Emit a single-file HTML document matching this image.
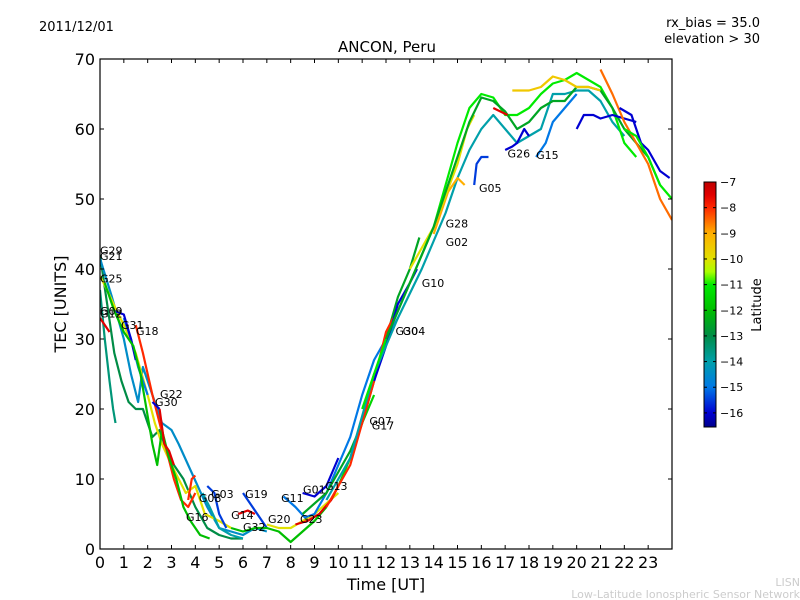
<!DOCTYPE html>
<html><head><meta charset="utf-8"><style>
body{margin:0;background:#fff;}
svg{display:block;font-family:"DejaVu Sans","Liberation Sans",sans-serif;}
</style></head><body>
<svg id="chart" width="800" height="600" viewBox="0 0 800 600">
<defs><linearGradient id="jet" x1="0" y1="1" x2="0" y2="0" id2="g"></linearGradient></defs>
<rect width="800" height="600" fill="#fff"/>
<text x="39" y="31" font-size="13">2011/12/01</text>
<text x="760" y="27" font-size="13" text-anchor="end">rx_bias = 35.0</text>
<text x="760" y="43" font-size="13" text-anchor="end">elevation &gt; 30</text>
<text x="387" y="52" font-size="15" text-anchor="middle">ANCON, Peru</text>
<text transform="translate(66,304) rotate(-90)" font-size="16" text-anchor="middle">TEC [UNITS]</text>
<text x="386" y="590" font-size="16" text-anchor="middle">Time [UT]</text>
<text x="800" y="586" font-size="11" fill="#ccc" text-anchor="end">LISN</text>
<text x="800" y="598" font-size="11" fill="#ccc" text-anchor="end">Low-Latitude Ionospheric Sensor Network</text>
<g id="plot"></g>
<g id="cbar">
<rect x="704" y="182" width="12" height="245" fill="url(#jet)" stroke="#000" stroke-width="1"/>
</g>
<text transform="translate(761,305) rotate(-90)" font-size="13" text-anchor="middle">Latitude</text>
</svg>
<script>
const xTicks=[0,1,2,3,4,5,6,7,8,9,10,11,12,13,14,15,16,17,18,19,20,21,22,23];
const yTicks=[0,10,20,30,40,50,60,70];
const cbTicks=[-7,-8,-9,-10,-11,-12,-13,-14,-15,-16];
const trackLat=[-13,-14.5,-10,-13.5,-7.5,-15,-16,-8,-12,-7.5,-16,-8,-15.5,-14,-15.5,-7.5,-12,-10,-15,-16,-7.5,-11.5,-12.5,-8,-16,-14,-9,-15.5,-10,-11,-12.5,-16,-15,-9.5,-7.5,-16,-8.5,-16,-11];
const trackT=[
[0,0.3,0.6,0.9,1.2,1.5,1.8,2.0,2.2,2.5,2.8,3.1,3.5,4.0,4.5,5.0,5.5,6.0],
[0,0.5,1.0,1.3,1.6,1.8,2.2,2.6,3.0,3.3,3.7,4.1,4.5,5.0,5.5,6.0,6.5,7.0],
[0,0.3,0.7,1.0,1.5,2.0,2.3,2.6,3.0,3.3,3.6,4.0,4.4,5.0,5.5],
[0,0.2,0.4,0.55,0.65],
[0,0.2,0.4],
[1.0,1.3,1.6,1.8,2.0],
[0.6,1.0,1.3,1.5],
[1.5,1.8,2.2,2.5,2.8,3.1,3.4,3.7,4.0],
[0.2,0.6,1.0,1.4,1.7,2.0,2.2,2.4,2.6,2.9,3.2,3.5,3.8,4.2,4.6],
[2.5,2.7,2.9,3.1],
[2.2,2.5],
[3.7,3.85,4.0],
[4.5,4.8,5.0,5.3],
[4.3,4.6,5.0,5.5,6.0],
[6.0,6.4,6.8,7.0],
[5.8,6.2,6.5],
[5.5,6.0,6.5,7.0,7.5,8.0,8.5,9.0,9.5],
[7.0,7.5,8.0,8.5,9.0,9.5,10.0],
[7.7,8.2,8.6,9.0,9.5,10.0,10.5,11.0,11.5,12.0,12.5],
[8.5,9.0,9.5,10.0],
[8.2,8.7,9.2,9.7,10.0],
[10.0,10.5,11.0,11.5],
[8.5,9.5,10.5,11.0,11.5,12.0,12.5,13.0,13.4],
[9.5,10.5,11.5,12.0,12.3],
[11.5,12.0,12.5,13.0,13.3],
[9.5,10.5,11.5,12.5,13.5,14.0,14.5,15.0,15.5,16.0,16.5,17.0,17.5,18.0,18.5,19.0,19.5,20.0,20.5,21.0,21.5,22.0],
[14.0,14.3,14.6,15.0,15.3],
[15.7,15.8,16.0,16.3],
[13.0,14.0,15.0,15.4,15.7],
[11.0,12.0,13.0,14.0,14.5,15.0,15.5,16.0,16.5,17.0,17.5,18.0,18.5,19.0,19.5,20.0,20.5,21.0,21.5,22.0,22.5],
[12.0,13.0,14.0,15.0,15.5,16.0,16.5,17.0,17.5,18.0,18.5,19.0,19.5,20.0,20.5,21.0,21.5,22.0,22.5,23.0,23.5],
[17.0,17.3,17.5,17.8,18.0],
[18.3,18.7,19.0,19.5,20.0],
[17.3,18.0,18.5,19.0,19.5,20.0,20.5,21.0],
[16.5,16.8,17.1],
[20.0,20.3,20.7,21.0,21.5,22.0,22.5],
[21.0,21.5,22.0,22.5,23.0,23.5,24.0],
[21.8,22.3,22.7,23.0,23.5,23.9],
[22.0,22.5,23.0,23.5,24.0]
];
const trackTec=[
[42,35,28,24,21,20,20,18,16,17,14,12,10,6,3,2,1.5,1.5],
[41.5,36,30,25,21,26,22,18,17,15,12,9,6,3,2.5,2,3,2.5],
[39,37,34,32,28,22,18,15,12,10,8,9,5,4,3],
[37,30,24,20,18],
[33,32,31],
[33,30,26,24,22],
[34,33.5,30,27],
[32,28,22,18,14,10,7,6,8],
[38,34,31,29,25,19,15,12,17,13,10,6,4,2,1.5],
[20,15,14,12],
[21,20],
[7,10,10.5],
[9,8,5,3],
[8,6,3,2,1.5],
[8,6,4,3],
[5,5.5,5],
[3,2.5,3,3,2.5,1,2.5,4,6],
[3.5,3,3,4,5,6.5,8],
[7.5,6,4.5,5,8,12,16,22,27,30,33],
[8,7.5,9,13],
[3.5,4,5,7,9],
[9,13,18,22],
[5,8,14,18,24,30,36,40,44.5],
[6,12,24,31,33],
[24,29,35,38,40],
[7,13,25,33,40,44,48,53,57,60,62,60,58,59,60,65,65,65.5,65.5,64,61,59],
[45,48,51,53,52],
[52,55,56,56],
[40,46,55,60,62],
[20,30,38,46,52,58,63,65,64.5,62,62,63,65,66.5,67,68,67,66,63,58,56],
[30,38,46,56,61,64.5,64,62.5,60,61,63,64,64,66,66,65.5,63,60,58,56,52],
[57,57.5,58,60,59],
[56,58,61,63,65],
[65.5,65.5,66,67.5,67,66,66,65.5],
[63,62.5,62],
[60,62,62,61.5,62,61.5,61],
[68.5,65,61,58,55,50,47],
[63,62,58,57,54,53],
[60,59,56,52,50]
];
const labelText=["G29","G21","G25","G09","G12","G31","G18","G22","G30","G16","G08","G03","G19","G14","G32","G20","G23","G11","G01","G13","G07","G17","G30","G04","G10","G02","G28","G05","G26","G15"];
const labelT=[0,0,0,0,0,0.88,1.51,2.52,2.31,3.61,4.15,4.66,6.09,5.5,6.0,7.05,8.39,7.6,8.52,9.44,11.3,11.4,12.4,12.7,13.5,14.5,14.5,15.9,17.1,18.3];
const labelTec=[42.1,41.3,38.1,33.4,33.1,31.4,30.6,21.6,20.4,4,6.7,7.3,7.3,4.3,2.6,3.7,3.7,6.7,7.9,8.4,17.7,17.1,30.6,30.6,37.4,43.3,45.9,51,55.9,55.7];

const X0=100,X1=672,Y0=549,Y1=59;
const xs=t=>X0+t*(X1-X0)/24;
const ys=v=>Y0-v*(Y0-Y1)/70;
const cbY=l=>182+(-7-l)*(245/9.55);
// colormap stops: [latitude, r,g,b] (styling)
const CM=[[-16.55,0,0,140],[-16,0,0,210],[-15,0,120,230],[-14,0,160,170],[-13,0,140,70],[-12,0,190,0],[-11,0,235,0],[-10.5,170,255,0],[-10,225,225,0],[-9,255,175,0],[-8,255,40,0],[-7.5,225,0,0],[-7,190,0,0]];
function jet(l){l=Math.max(-16.55,Math.min(-7,l));
 for(let i=0;i<CM.length-1;i++){const a=CM[i],b=CM[i+1];if(l<=b[0]){const f=(l-a[0])/(b[0]-a[0]);
 return `rgb(${Math.round(a[1]+f*(b[1]-a[1]))},${Math.round(a[2]+f*(b[2]-a[2]))},${Math.round(a[3]+f*(b[3]-a[3]))})`;}}
 return 'rgb(190,0,0)';}
const NS="http://www.w3.org/2000/svg";
const grad=document.getElementById('jet');
CM.forEach(s=>{const st=document.createElementNS(NS,'stop');st.setAttribute('offset',(s[0]+16.55)/9.55);st.setAttribute('stop-color',`rgb(${s[1]},${s[2]},${s[3]})`);grad.appendChild(st);});
const plot=document.getElementById('plot');
function mk(tag,at,parent){const e=document.createElementNS(NS,tag);for(const k in at)e.setAttribute(k,at[k]);(parent||plot).appendChild(e);return e;}
const cp=mk('clipPath',{id:'clip'});mk('rect',{x:X0,y:Y1,width:X1-X0,height:Y0-Y1},cp);
const g=mk('g',{'clip-path':'url(#clip)'});
trackT.forEach((ts,i)=>{
 const p=mk('polyline',{points:ts.map((t,j)=>xs(t)+','+ys(trackTec[i][j])).join(' '),fill:'none',stroke:jet(trackLat[i]),'stroke-width':2.2,'stroke-linejoin':'round'},g);
 
 
});
labelText.forEach((s,i)=>{
 const t=mk('text',{x:xs(labelT[i]),y:ys(labelTec[i]),'font-size':11});t.textContent=s;
 
 
});
mk('rect',{x:X0,y:Y1,width:X1-X0,height:Y0-Y1,fill:'none',stroke:'#000','stroke-width':1.2});
xTicks.forEach(t=>{const x=xs(t);
 mk('line',{x1:x,x2:x,y1:Y0,y2:Y0-4,stroke:'#000'});mk('line',{x1:x,x2:x,y1:Y1,y2:Y1+4,stroke:'#000'});
 const e=mk('text',{x:x,y:Y0+19,'font-size':16,'text-anchor':'middle'});e.textContent=t;
 
 });
yTicks.forEach(v=>{const y=ys(v);
 mk('line',{x1:X0,x2:X0+4,y1:y,y2:y,stroke:'#000'});mk('line',{x1:X1,x2:X1-4,y1:y,y2:y,stroke:'#000'});
 const e=mk('text',{x:X0-5,y:y+6,'font-size':16,'text-anchor':'end'});e.textContent=v;
 
 });
const cb=document.getElementById('cbar');
cbTicks.forEach(l=>{const y=cbY(l);
 mk('line',{x1:704,x2:707,y1:y,y2:y,stroke:'#000'},cb);mk('line',{x1:716,x2:713,y1:y,y2:y,stroke:'#000'},cb);
 const e=mk('text',{x:720,y:y+4,'font-size':11},cb);e.textContent='\u2212'+(-l);
 
 });
</script>
</body></html>
